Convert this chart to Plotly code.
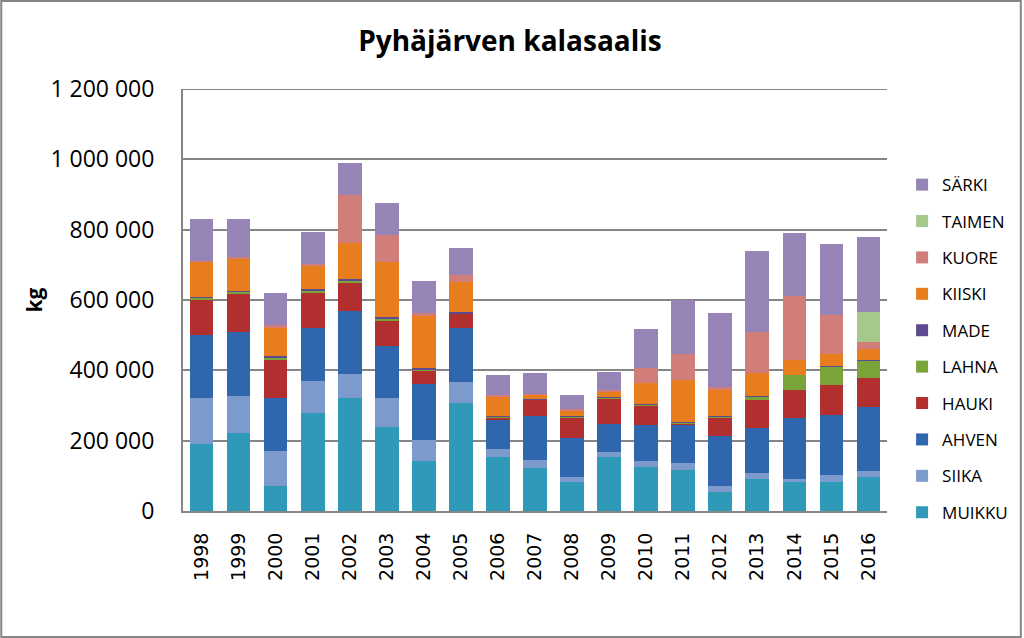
import plotly.graph_objects as go

years = [str(y) for y in range(1998, 2017)]

muikku = [191000, 221000, 72000, 279000, 322000, 240000, 143000, 308000, 153000, 121000,
          82000, 153000, 126000, 117000, 53000, 91000, 82000, 83000, 96000]
siika = [130000, 107000, 100000, 90000, 68000, 81000, 59000, 60000, 24000, 25000,
         14000, 14000, 17000, 20000, 19000, 16000, 9000, 18000, 19000]
ahven = [180000, 181000, 149000, 151000, 179000, 148000, 158000, 153000, 82000, 124000,
         112000, 81000, 102000, 108000, 141000, 129000, 173000, 172000, 180000]
hauki = [100000, 107000, 109000, 100000, 80000, 70000, 37000, 40000, 8000, 46000,
         59000, 71000, 55000, 4000, 53000, 81000, 81000, 86000, 83000]
lahna = [5000, 7000, 7000, 7000, 7000, 8000, 6000, 2000, 1000, 2000,
         2000, 3000, 4000, 4000, 4000, 8000, 42000, 51000, 49000]
made = [3000, 3000, 3000, 4000, 5000, 4000, 3000, 2000, 1000, 1000,
        2000, 2000, 1000, 1000, 1000, 1000, 1000, 1000, 1000]
kiiski = [100000, 92000, 83000, 65000, 100000, 156000, 148000, 85000, 55000, 11000,
          15000, 17000, 60000, 118000, 72000, 67000, 42000, 35000, 33000]
kuore = [3000, 5000, 5000, 7000, 137000, 79000, 9000, 20000, 6000, 3000,
         3000, 4000, 42000, 75000, 11000, 116000, 180000, 112000, 20000]
taimen = [0, 0, 0, 0, 0, 0, 0, 0, 0, 0,
          0, 0, 0, 0, 0, 0, 0, 0, 84000]
sarki = [117000, 108000, 93000, 90000, 93000, 89000, 90000, 78000, 57000, 59000,
         42000, 50000, 110000, 153000, 210000, 230000, 180000, 200000, 214000]

series = [
    ("MUIKKU", muikku, "#2e9ab8"),
    ("SIIKA", siika, "#7d9acd"),
    ("AHVEN", ahven, "#2f66ae"),
    ("HAUKI", hauki, "#b22f2f"),
    ("LAHNA", lahna, "#7aa33a"),
    ("MADE", made, "#5e4a8e"),
    ("KIISKI", kiiski, "#e87d1e"),
    ("KUORE", kuore, "#d17e7b"),
    ("TAIMEN", taimen, "#a6c88a"),
    ("SÄRKI", sarki, "#9784b6"),
]

fig = go.Figure()
for i, (name, vals, col) in enumerate(series):
    fig.add_trace(go.Bar(x=years, y=vals, name=name, legendgroup=name,
                         legendrank=1000 - i,
                         marker=dict(color=col, line=dict(width=0))))

font = "Open Sans"
fig.update_layout(
    barmode="stack",
    bargap=0.36,
    width=1024, height=638,
    margin=dict(l=183, r=136, t=89, b=127),
    paper_bgcolor="white", plot_bgcolor="white",
    separators=", ",
    title=dict(text="<b>Pyhäjärven kalasaalis</b>", x=0.498, xanchor="center",
               y=0.935, yanchor="middle", font=dict(family=font, size=28, color="black")),
    font=dict(family=font, color="black"),
    legend=dict(x=1.02, xanchor="left", y=0.815, yanchor="top",
                traceorder="grouped", tracegroupgap=11.3,
                font=dict(family=font, size=17, color="black"),
                itemwidth=30),
    showlegend=True,
)
fig.update_yaxes(range=[0, 1200000], tickvals=[0, 200000, 400000, 600000, 800000, 1000000, 1200000],
                 tickformat=",d",
                 showgrid=True, gridcolor="#868686", gridwidth=2,
                 showline=True, linecolor="#868686", linewidth=2,
                 ticks="", ticklabelstandoff=22,
                 tickfont=dict(family=font, size=23, color="black"),
                 title=dict(text="<b>kg</b>", font=dict(family=font, size=21, color="black"),
                            standoff=2))
fig.update_xaxes(showline=True, linecolor="#868686", linewidth=2,
                 tickangle=-90, ticks="", ticklabelstandoff=12,
                 tickfont=dict(family="DejaVu Sans", size=19, color="black"))

# top gridline at 1 200 000
fig.add_shape(type="line", xref="paper", yref="y", x0=0, x1=1, y0=1200000, y1=1200000,
              line=dict(color="#868686", width=2), layer="below")

fig.add_shape(type="rect", xref="paper", yref="paper",
              x0=-182 / 705, x1=1 + 134 / 705, y0=-126 / 422, y1=1 + 88 / 422,
              line=dict(color="#868686", width=2))

fig.write_html("out.html", config={"displayModeBar": False},
               post_script="document.body.style.margin='0';")
